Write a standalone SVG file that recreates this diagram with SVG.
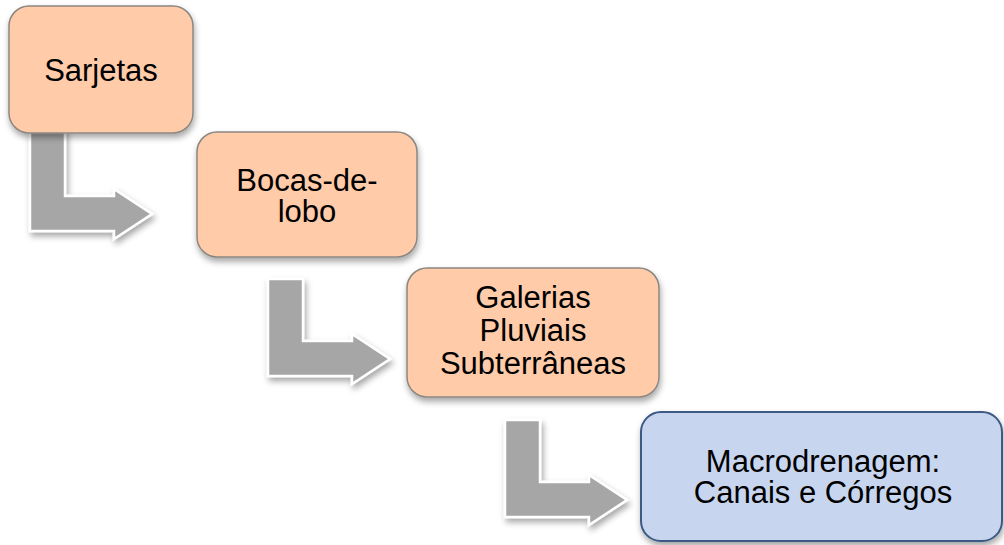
<svg xmlns="http://www.w3.org/2000/svg" width="1004" height="545" viewBox="0 0 1004 545">
  <defs>
    <filter id="boxShadow" x="-10%" y="-10%" width="120%" height="130%">
      <feDropShadow dx="1" dy="4" stdDeviation="3" flood-color="#000" flood-opacity="0.35"/>
    </filter>
    <filter id="arrowShadow" x="-15%" y="-15%" width="135%" height="140%">
      <feDropShadow dx="2" dy="4" stdDeviation="3" flood-color="#000" flood-opacity="0.35"/>
    </filter>
    <path id="bentArrow" d="M0,0 H35 V62 H84 V55 L122,80 L84,105 V97 H0 Z"/>
  </defs>
  <style>
    .arrow { fill: #A6A6A6; stroke: #FFFFFF; stroke-width: 2.5; stroke-linejoin: miter; filter: url(#arrowShadow); }
    .peach { fill: #FFCBA9; stroke: #8C8680; stroke-width: 1.5; filter: url(#boxShadow); }
    .blue { fill: #C7D5EE; stroke: #3C5A84; stroke-width: 2; filter: url(#boxShadow); }
    .label { font-family: "Liberation Sans", Arial, sans-serif; font-size: 31px; fill: #000000; text-anchor: middle; }
  </style>
  <rect width="1004" height="545" fill="#FFFFFF"/>
  <g id="connectors">
    <path class="arrow" d="M30,128 H65 V196 H114 V189 L152,214 L114,239 V231 H30 Z"/>
    <use class="arrow" href="#bentArrow" transform="translate(268,279)"/>
    <use class="arrow" href="#bentArrow" transform="translate(505,420)"/>
  </g>
  <g id="node-sarjetas">
    <rect class="peach" x="9" y="6" width="184" height="127" rx="20" ry="20"/>
    <text class="label" x="101" y="81">Sarjetas</text>
  </g>
  <g id="node-bocas-de-lobo">
    <rect class="peach" x="197" y="132" width="220" height="125" rx="20" ry="20"/>
    <text class="label" x="307" y="190.5">Bocas-de-</text>
    <text class="label" x="307" y="222">lobo</text>
  </g>
  <g id="node-galerias">
    <rect class="peach" x="407" y="268" width="252" height="129" rx="20" ry="20"/>
    <text class="label" x="533" y="307.5">Galerias</text>
    <text class="label" x="533" y="341">Pluviais</text>
    <text class="label" x="533" y="374">Subterrâneas</text>
  </g>
  <g id="node-macrodrenagem">
    <rect class="blue" x="641" y="412" width="361" height="129" rx="20" ry="20"/>
    <text class="label" x="823" y="471.5">Macrodrenagem:</text>
    <text class="label" x="823" y="503">Canais e Córregos</text>
  </g>
</svg>
